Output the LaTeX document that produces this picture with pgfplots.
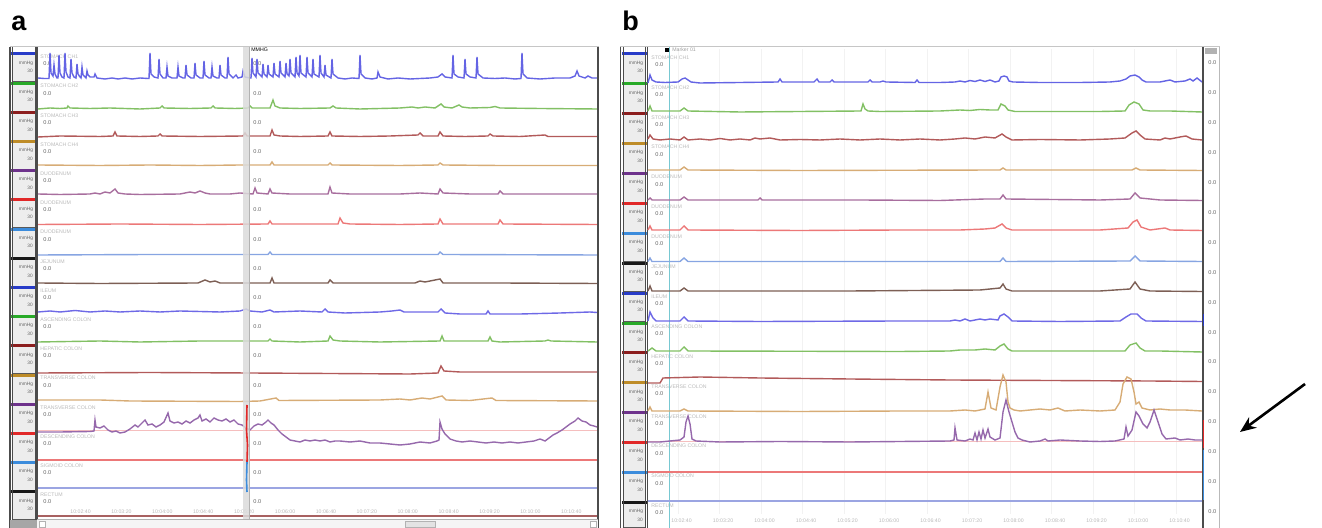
\documentclass[border=0pt]{standalone}
\usepackage{fontspec}
\setmainfont{Liberation Sans}
\usepackage{pgfplots}
\pgfplotsset{compat=1.18}
\usetikzlibrary{arrows.meta}

% channel bar colours (strip)
\definecolor{c0}{RGB}{40,60,200}
\definecolor{c1}{RGB}{40,170,40}
\definecolor{c2}{RGB}{140,30,30}
\definecolor{c3}{RGB}{190,140,40}
\definecolor{c4}{RGB}{110,50,140}
\definecolor{c5}{RGB}{225,40,40}
\definecolor{c6}{RGB}{60,140,220}
\definecolor{c7}{RGB}{25,25,25}
\colorlet{c8}{c0}\colorlet{c9}{c1}\colorlet{c10}{c2}\colorlet{c11}{c3}
\colorlet{c12}{c4}\colorlet{c13}{c5}\colorlet{c14}{c6}\colorlet{c15}{c7}
% trace colours
\definecolor{tblue}{RGB}{100,100,228}
\definecolor{tgreen}{RGB}{130,192,100}
\definecolor{tdred}{RGB}{178,90,90}
\definecolor{ttan}{RGB}{215,172,118}
\definecolor{tmauve}{RGB}{168,110,158}
\definecolor{tred}{RGB}{236,120,120}
\definecolor{tlblue}{RGB}{135,165,226}
\definecolor{tdark}{RGB}{125,95,85}
\definecolor{tviolet}{RGB}{110,105,230}
\definecolor{tpurple}{RGB}{150,105,172}
\definecolor{tlav}{RGB}{155,165,226}
\definecolor{tpink}{RGB}{245,190,190}
\definecolor{tcyan}{RGB}{120,200,210}

\newcommand{\chlab}[1]{\ifcase#1\relax STOMACH CH1\or STOMACH CH2\or STOMACH CH3\or STOMACH CH4\or DUODENUM\or DUODENUM\or DUODENUM\or JEJUNUM\or ILEUM\or ASCENDING COLON\or HEPATIC COLON\or TRANSVERSE COLON\or TRANSVERSE COLON\or DESCENDING COLON\or SIGMOID COLON\or RECTUM\fi}
\newcommand{\tl}[1]{\ifcase#1\relax 10:02:40\or 10:03:20\or 10:04:00\or 10:04:40\or 10:05:20\or 10:06:00\or 10:06:40\or 10:07:20\or 10:08:00\or 10:08:40\or 10:09:20\or 10:10:00\or 10:10:40\fi}

% one trace: colour/style, baseline (px), rows "x rise \\"
\newcommand{\tr}[3]{\addplot[line width=0.7pt,#1] table[x index=0,y expr={#2-\thisrowno{1}},row sep=\\]{#3};}

\tikzset{
  lab/.style={font=\fontsize{2.6}{3}\selectfont, text=gray!55, inner sep=0pt, anchor=west},
  zero/.style={font=\fontsize{2.8}{3}\selectfont, text=gray!80!black, inner sep=0pt, anchor=west},
  sm/.style={font=\fontsize{2.4}{3}\selectfont, text=gray!80!black, inner sep=0pt},
}

\begin{document}
\begin{tikzpicture}
\begin{axis}[scale only axis, width=661pt, height=264pt,
  xmin=0, xmax=1322, ymin=0, ymax=528, y dir=reverse,
  hide axis, clip=false]

% ---------------- panel a ----------------
\draw[gray!45, line width=0.5pt] (axis cs:10,47) -- (axis cs:599,47);
\pgfplotsinvokeforeach{0,...,15}{
  \draw[fill=gray!14, draw=gray!70!black, line width=0.35pt] (axis cs:12.5,{52.5+29.2*#1}) rectangle (axis cs:35,{52.5+29.2*(#1+1)});
  \fill[c#1] (axis cs:11,{52.5+29.2*#1}) rectangle (axis cs:36.5,{55.5+29.2*#1});
  \node[sm] at (axis cs:26,{63+29.2*#1}) {mmHg};
  \node[sm] at (axis cs:30,{71+29.2*#1}) {30};
  \node[lab] at (axis cs:40,{57+29.2*#1}) {\chlab{#1}};
  \node[zero] at (axis cs:43,{64+29.2*#1}) {0.0};
  \node[zero] at (axis cs:253,{64+29.2*#1}) {0.0};
}
\draw[gray!60!black, line width=0.6pt] (axis cs:10,47) -- (axis cs:10,528);
\draw[gray!60!black, line width=0.4pt] (axis cs:12.5,47) -- (axis cs:12.5,520);
\draw[gray!60!black, line width=0.4pt] (axis cs:35,47) -- (axis cs:35,520);
\draw[gray!60!black, line width=0.6pt] (axis cs:37,47) -- (axis cs:37,528);
\pgfplotsinvokeforeach{0,...,12}{
  \node[lab] at (axis cs:{70+40.9*#1},512) {\tl{#1}};
}
\addplot[tpink, line width=0.5pt] coordinates {(38,431) (597,431)};

\tr{tblue}{79}{38 1 \\ 44 0.5 \\ 49 0.5 \\ 50 26 \\ 51 6 \\ 53 3 \\ 54 14 \\ 55 5 \\ 57 1 \\ 58 1 \\ 59 24 \\ 60 6 \\ 62 2 \\ 64 1 \\ 65 26 \\ 66 7 \\ 68 2 \\ 70 1 \\ 71 20 \\ 72 6 \\ 74 2 \\ 76 1 \\ 77 15 \\ 78 5 \\ 80 2 \\ 81 1 \\ 82 12 \\ 83 4 \\ 85 2 \\ 86 1 \\ 87 8 \\ 88 4 \\ 90 2 \\ 94 2 \\ 95 5 \\ 97 1 \\ 105 0 \\ 112 1 \\ 118 0 \\ 125 1 \\ 132 0 \\ 140 1 \\ 148 0.5 \\ 149 0.5 \\ 150 26 \\ 151 5 \\ 154 2 \\ 158 1 \\ 159 20 \\ 160 5 \\ 163 1 \\ 166 1 \\ 167 12 \\ 168 3 \\ 172 1 \\ 177 1 \\ 178 12 \\ 179 3 \\ 183 1 \\ 185 1 \\ 186 14 \\ 187 4 \\ 191 1 \\ 194 1 \\ 195 16 \\ 196 4 \\ 200 1 \\ 203 1 \\ 204 18 \\ 205 4 \\ 209 1 \\ 211 1 \\ 212 12 \\ 213 3 \\ 217 1 \\ 219 1 \\ 220 14 \\ 221 4 \\ 225 1 \\ 227 1 \\ 228 22 \\ 229 5 \\ 233 1 \\ 236 4 \\ 238 1 \\ 242 2 \\ 243 8 \\ 245 2 \\ 250 1 \\ 251 1 \\ 252 21 \\ 253 6 \\ 256 2 \\ 257 20 \\ 258 6 \\ 262 2 \\ 263 15 \\ 264 5 \\ 267 2 \\ 268 14 \\ 269 5 \\ 273 2 \\ 274 16 \\ 275 5 \\ 279 2 \\ 280 18 \\ 281 6 \\ 285 2 \\ 286 16 \\ 287 5 \\ 289 3 \\ 290 20 \\ 291 6 \\ 295 2 \\ 296 22 \\ 297 6 \\ 299 3 \\ 300 24 \\ 301 6 \\ 306 2 \\ 307 22 \\ 308 6 \\ 312 2 \\ 313 20 \\ 314 5 \\ 319 2 \\ 320 24 \\ 321 6 \\ 324 2 \\ 325 14 \\ 326 4 \\ 331 1 \\ 332 20 \\ 333 5 \\ 338 1 \\ 345 0 \\ 352 1 \\ 359 0.5 \\ 360 24 \\ 361 5 \\ 365 1 \\ 372 0 \\ 377 1 \\ 378 7 \\ 380 2 \\ 388 0 \\ 398 1 \\ 410 0 \\ 420 0.5 \\ 430 1 \\ 438 2 \\ 442 5 \\ 445 2 \\ 452 1 \\ 453 24 \\ 454 5 \\ 458 2 \\ 464 1 \\ 465 20 \\ 466 5 \\ 470 2 \\ 476 1 \\ 477 22 \\ 478 5 \\ 483 1 \\ 495 0.5 \\ 505 1 \\ 515 0 \\ 521 0.5 \\ 522 26 \\ 523 5 \\ 527 1 \\ 540 0 \\ 555 1 \\ 570 1 \\ 575 3 \\ 577 8 \\ 579 3 \\ 585 1 \\ 588 3 \\ 592 1 \\ 597 1 \\}
\tr{tgreen}{109}{38 0 \\ 50 1 \\ 60 0.5 \\ 67 1 \\ 68 3 \\ 70 1 \\ 90 0.5 \\ 110 1 \\ 140 0 \\ 160 1 \\ 162 3 \\ 164 1 \\ 190 0.5 \\ 211 1 \\ 213 3 \\ 215 1 \\ 235 0.5 \\ 248 1 \\ 250 3 \\ 252 1 \\ 270 1 \\ 273 9 \\ 275 3 \\ 280 1 \\ 300 0.5 \\ 330 1 \\ 333 3 \\ 336 1 \\ 360 0 \\ 400 1 \\ 412 2 \\ 418 1 \\ 425 2 \\ 435 1 \\ 441 5 \\ 444 2 \\ 452 1 \\ 459 4 \\ 462 2 \\ 470 1 \\ 490 1.5 \\ 495 2.5 \\ 500 1 \\ 540 0.5 \\ 597 0 \\}
\tr{tdred}{137}{38 0 \\ 60 1 \\ 100 0.5 \\ 113 1 \\ 115 5 \\ 117 1 \\ 140 0.5 \\ 158 1 \\ 160 3 \\ 162 1 \\ 200 0.5 \\ 243 1 \\ 245 4 \\ 247 1 \\ 270 1 \\ 272 7 \\ 274 2 \\ 280 1 \\ 300 0.5 \\ 328 1 \\ 330 5 \\ 332 1 \\ 360 0.5 \\ 390 1 \\ 418 2 \\ 420 4 \\ 423 1 \\ 438 1 \\ 440 5 \\ 443 1 \\ 465 0.5 \\ 488 1 \\ 490 3 \\ 493 1 \\ 520 0.5 \\ 545 2 \\ 548 0.5 \\ 597 0.5 \\}
\tr{ttan}{166}{38 1 \\ 100 0.5 \\ 150 1 \\ 200 0.5 \\ 240 1 \\ 270 1 \\ 272 4 \\ 274 1 \\ 328 1 \\ 330 3 \\ 332 1 \\ 400 0.5 \\ 438 1 \\ 440 3 \\ 443 1 \\ 500 0.5 \\ 597 0.5 \\}
\tr{tmauve}{195}{38 1 \\ 60 0.5 \\ 90 1 \\ 95 2 \\ 100 1 \\ 105 3 \\ 110 2 \\ 115 6 \\ 118 2 \\ 125 1 \\ 140 0.5 \\ 180 1 \\ 190 3 \\ 195 2 \\ 200 4 \\ 205 2 \\ 210 1 \\ 230 1 \\ 240 2 \\ 253 1 \\ 255 7 \\ 257 2 \\ 268 1 \\ 270 6 \\ 272 2 \\ 290 1 \\ 310 1 \\ 328 1 \\ 330 8 \\ 332 2 \\ 350 1 \\ 400 1 \\ 420 2 \\ 438 1 \\ 440 6 \\ 443 2 \\ 470 1 \\ 498 1 \\ 500 4 \\ 503 1 \\ 540 1 \\ 597 1 \\}
\tr{tred}{225}{38 0.5 \\ 120 1 \\ 200 0.5 \\ 268 1 \\ 270 4 \\ 272 1 \\ 338 1 \\ 340 7 \\ 343 2 \\ 350 1 \\ 400 0.5 \\ 438 1 \\ 440 6 \\ 443 1 \\ 498 1 \\ 500 5 \\ 503 1 \\ 597 0.5 \\}
\tr{tlblue}{255}{38 0 \\ 150 0.5 \\ 268 0.5 \\ 270 3 \\ 272 0.5 \\ 438 0.5 \\ 440 3 \\ 443 0.5 \\ 597 0 \\}
\tr{tdark}{284}{38 1 \\ 100 0.5 \\ 198 1 \\ 205 4 \\ 210 2 \\ 215 3 \\ 220 1 \\ 270 1 \\ 272 6 \\ 274 1 \\ 328 1 \\ 330 4 \\ 333 1 \\ 415 1 \\ 420 3 \\ 425 2 \\ 430 3 \\ 440 5 \\ 443 1 \\ 500 1 \\ 597 0.5 \\}
\tr{tviolet}{313}{38 1 \\ 50 2 \\ 60 1 \\ 75 2.5 \\ 90 1 \\ 105 2 \\ 120 1 \\ 140 2 \\ 160 1 \\ 180 2 \\ 200 1.5 \\ 220 1 \\ 240 2 \\ 246 4 \\ 250 2 \\ 262 1 \\ 270 3 \\ 274 1 \\ 300 2 \\ 322 1 \\ 325 4 \\ 328 1 \\ 345 0 \\ 380 1 \\ 392 2 \\ 400 3 \\ 404 1 \\ 420 1 \\ 438 1 \\ 441 4 \\ 445 0 \\ 460 -1 \\ 486 -1 \\ 488 2 \\ 490 -1 \\ 520 -1 \\ 560 0 \\ 590 1 \\ 597 0.5 \\}
\tr{tgreen}{342}{38 0 \\ 100 1 \\ 140 0 \\ 200 1 \\ 268 1 \\ 270 3 \\ 272 1 \\ 300 0 \\ 328 1 \\ 330 6 \\ 333 2 \\ 340 1 \\ 380 0 \\ 440 1 \\ 442 6 \\ 444 1 \\ 488 1 \\ 490 5 \\ 492 1 \\ 500 0 \\ 545 1 \\ 548 2 \\ 551 1 \\ 597 0 \\}
\tr{tdred}{373}{38 0 \\ 150 0.5 \\ 250 0 \\ 410 -1 \\ 438 0 \\ 441 7 \\ 444 2 \\ 460 1 \\ 597 1 \\}
\tr{ttan}{401}{38 1 \\ 100 1 \\ 130 0 \\ 240 -0.5 \\ 260 0 \\ 276 3 \\ 279 0.5 \\ 380 1 \\ 400 2 \\ 410 1 \\ 422 3 \\ 430 2 \\ 442 5 \\ 446 1 \\ 470 0.5 \\ 492 3 \\ 496 0.5 \\ 597 0 \\}
\tr{tpurple}{432}{38 0 \\ 60 0 \\ 90 0.5 \\ 94 1 \\ 95 12 \\ 96 5 \\ 100 4 \\ 104 6 \\ 108 2 \\ 112 0 \\ 116 1 \\ 120 -1 \\ 125 0 \\ 130 3 \\ 135 7 \\ 138 5 \\ 142 9 \\ 145 12 \\ 148 7 \\ 152 8 \\ 156 5 \\ 160 7 \\ 164 10 \\ 168 19 \\ 170 11 \\ 174 9 \\ 178 10 \\ 182 8 \\ 186 11 \\ 190 9 \\ 194 12 \\ 198 14 \\ 200 17 \\ 202 11 \\ 206 13 \\ 210 10 \\ 214 14 \\ 218 12 \\ 222 11 \\ 226 13 \\ 230 10 \\ 234 12 \\ 238 8 \\ 242 7 \\ 246 4 \\ 250 2 \\ 254 6 \\ 258 8 \\ 262 7 \\ 266 10 \\ 268 12 \\ 271 9 \\ 274 7 \\ 278 2 \\ 282 -2 \\ 286 -5 \\ 290 -8 \\ 295 -9 \\ 300 -10 \\ 305 -8 \\ 310 -9 \\ 315 -8 \\ 320 -9 \\ 325 -8 \\ 330 -10 \\ 335 -9 \\ 340 -9 \\ 350 -10 \\ 360 -9 \\ 370 -11 \\ 380 -11 \\ 390 -12 \\ 400 -13 \\ 410 -12 \\ 420 -10 \\ 430 -11 \\ 437 -9 \\ 439 -8 \\ 440 10 \\ 442 3 \\ 445 -2 \\ 450 -7 \\ 456 -9 \\ 462 -10 \\ 470 -9 \\ 478 -10 \\ 486 -11 \\ 494 -10 \\ 502 -11 \\ 510 -10 \\ 518 -11 \\ 526 -10 \\ 534 -9 \\ 540 -7 \\ 545 -9 \\ 549 -6 \\ 553 -3 \\ 557 -1 \\ 562 2 \\ 566 5 \\ 570 8 \\ 575 11 \\ 578 14 \\ 582 11 \\ 586 10 \\ 590 7 \\ 594 6 \\ 597 5 \\}
\tr{tred,line width=1.1pt}{460}{38 0 \\ 300 0 \\ 597 0 \\}
\tr{tlav}{488}{38 0 \\ 300 0 \\ 597 0 \\}
\tr{tdred!80!gray}{516}{38 0 \\ 300 0 \\ 597 0 \\}

% split bar and frame of panel a
\fill[gray!28, opacity=0.85] (axis cs:243,47) rectangle (axis cs:250,519);
\draw[gray!60, line width=0.5pt] (axis cs:249,47) -- (axis cs:249,519);
\node[lab, text=black] at (axis cs:251,50) {MMHG};
\addplot[c5, line width=0.8pt] coordinates {(247,405) (246.5,430) (247.5,445) (247,462)};
\addplot[c6, line width=0.8pt] coordinates {(247,462) (246.5,480) (247,492)};
\draw[gray!60!black, line width=0.7pt] (axis cs:598,47) -- (axis cs:598,528);
\fill[gray!8] (axis cs:37,519) rectangle (axis cs:598,528);
\draw[gray!60, line width=0.4pt] (axis cs:37,519) -- (axis cs:598,519);
\fill[gray!70] (axis cs:10,520) rectangle (axis cs:37,528);
\draw[gray!60, fill=white, line width=0.3pt] (axis cs:39,521) rectangle (axis cs:45,527);
\draw[gray!60, fill=gray!22, line width=0.3pt] (axis cs:405,521) rectangle (axis cs:435,527);
\draw[gray!60, fill=white, line width=0.3pt] (axis cs:590,521) rectangle (axis cs:596,527);

% ---------------- panel b ----------------
\draw[gray!45, line width=0.5pt] (axis cs:620,47) -- (axis cs:1220,47);
\pgfplotsinvokeforeach{0,...,12}{
  \draw[gray!10, line width=0.3pt] (axis cs:{678+41.5*#1},49) -- (axis cs:{678+41.5*#1},514);
  \node[lab] at (axis cs:{671+41.5*#1},521) {\tl{#1}};
}
\pgfplotsinvokeforeach{0,...,15}{
  \draw[fill=gray!14, draw=gray!70!black, line width=0.35pt] (axis cs:623,{52.5+29.9*#1}) rectangle (axis cs:645,{min(52.5+29.9*(#1+1),527.5)});
  \fill[c#1] (axis cs:621.5,{52.5+29.9*#1}) rectangle (axis cs:646.5,{55.5+29.9*#1});
  \node[sm] at (axis cs:636,{63+29.9*#1}) {mmHg};
  \node[sm] at (axis cs:640,{71+29.9*#1}) {30};
  \node[lab] at (axis cs:651,{57.5+29.9*#1}) {\chlab{#1}};
  \node[zero] at (axis cs:655,{64.5+29.9*#1}) {0.0};
  \node[zero] at (axis cs:1208,{63+29.9*#1}) {0.0};
}
\draw[gray!60!black, line width=0.6pt] (axis cs:620.5,47) -- (axis cs:620.5,528);
\draw[gray!60!black, line width=0.4pt] (axis cs:623,47) -- (axis cs:623,528);
\draw[gray!60!black, line width=0.4pt] (axis cs:645,47) -- (axis cs:645,528);
\draw[gray!60!black, line width=0.6pt] (axis cs:647.5,47) -- (axis cs:647.5,528);
\addplot[tpink, line width=0.5pt] coordinates {(648,442) (1202,442)};
\addplot[tcyan, line width=0.7pt] coordinates {(669.5,47) (669.5,528)};
\fill[black] (axis cs:665,48) rectangle (axis cs:669,52);
\node[lab, text=gray!75] at (axis cs:672,50) {Marker 01};

\tr{tblue}{83}{648 0 \\ 650 8 \\ 652 3 \\ 656 1 \\ 665 0.5 \\ 678 1 \\ 682 4 \\ 685 5 \\ 688 3 \\ 691 1 \\ 700 0 \\ 740 0.5 \\ 778 1 \\ 780 4 \\ 782 1 \\ 814 1 \\ 817 4 \\ 819 1 \\ 830 1 \\ 832 3 \\ 834 1 \\ 868 1 \\ 870 3 \\ 872 1 \\ 880 1 \\ 883 2 \\ 886 1 \\ 915 0.5 \\ 917 3 \\ 919 0.5 \\ 940 0.5 \\ 955 1 \\ 960 2 \\ 965 1 \\ 970 2.5 \\ 975 1.5 \\ 980 3 \\ 985 1.5 \\ 990 3 \\ 995 1 \\ 999 2 \\ 1001 6 \\ 1004 7 \\ 1007 6 \\ 1009 2 \\ 1013 1 \\ 1040 0.5 \\ 1080 0.5 \\ 1110 1 \\ 1120 2 \\ 1126 4 \\ 1130 7 \\ 1135 8 \\ 1139 6 \\ 1142 3 \\ 1146 1 \\ 1160 1 \\ 1170 3 \\ 1175 1 \\ 1185 2 \\ 1190 4 \\ 1193 2 \\ 1197 5 \\ 1202 1 \\}
\tr{tgreen}{112}{648 1 \\ 650 6 \\ 652 1 \\ 680 1 \\ 684 4 \\ 688 1 \\ 740 0 \\ 800 0.5 \\ 861 1 \\ 863 8 \\ 865 3 \\ 868 1 \\ 880 0.5 \\ 940 1 \\ 960 2 \\ 970 1.5 \\ 980 2.5 \\ 990 2 \\ 998 2 \\ 1001 8 \\ 1005 6 \\ 1008 2 \\ 1015 0.5 \\ 1060 0.5 \\ 1100 0.5 \\ 1125 1 \\ 1129 7 \\ 1134 10 \\ 1139 8 \\ 1143 2 \\ 1150 1 \\ 1170 1 \\ 1202 0 \\}
\tr{tdred}{141}{648 2 \\ 650 6 \\ 653 2 \\ 660 1 \\ 670 2 \\ 680 1 \\ 684 4 \\ 688 1 \\ 700 2 \\ 710 1 \\ 720 2.5 \\ 730 1 \\ 740 2 \\ 750 1 \\ 755 3 \\ 760 2 \\ 770 3 \\ 780 1 \\ 800 1.5 \\ 820 1 \\ 840 2 \\ 860 1 \\ 880 2 \\ 900 1 \\ 920 2 \\ 940 1 \\ 955 2 \\ 965 3 \\ 975 2 \\ 985 4 \\ 995 3 \\ 1002 7 \\ 1006 4 \\ 1012 1 \\ 1040 1.5 \\ 1080 1 \\ 1110 2 \\ 1125 3 \\ 1132 8 \\ 1136 10 \\ 1140 6 \\ 1145 2 \\ 1160 1 \\ 1165 3 \\ 1170 2 \\ 1180 4 \\ 1186 5 \\ 1192 2 \\ 1202 1 \\}
\tr{ttan}{171}{648 1 \\ 680 1 \\ 684 4 \\ 688 1 \\ 800 0.5 \\ 1000 1 \\ 1003 3 \\ 1006 1 \\ 1132 1 \\ 1136 3 \\ 1140 1 \\ 1202 0.5 \\}
\tr{tmauve}{201}{648 1 \\ 650 3 \\ 652 1 \\ 680 1 \\ 684 4 \\ 688 1 \\ 758 1 \\ 760 3 \\ 762 1 \\ 860 1 \\ 940 0.5 \\ 970 1.5 \\ 985 2 \\ 1000 2 \\ 1003 6 \\ 1006 2 \\ 1100 1 \\ 1130 2 \\ 1135 8 \\ 1140 3 \\ 1160 1 \\ 1202 0.5 \\}
\tr{tred}{231}{648 1 \\ 650 5 \\ 652 1 \\ 680 1 \\ 684 5 \\ 688 1 \\ 800 0.5 \\ 900 1 \\ 960 1 \\ 985 2 \\ 995 3 \\ 1002 7 \\ 1006 3 \\ 1012 1 \\ 1100 1 \\ 1128 3 \\ 1133 9 \\ 1137 11 \\ 1141 4 \\ 1150 1 \\ 1165 3 \\ 1170 1 \\ 1202 0.5 \\}
\tr{tlblue}{262}{648 0.5 \\ 650 4 \\ 652 0.5 \\ 680 0.5 \\ 684 4 \\ 688 0.5 \\ 1000 0.5 \\ 1003 4 \\ 1006 0.5 \\ 1130 1 \\ 1135 6 \\ 1140 1 \\ 1202 0.5 \\}
\tr{tdark}{292}{648 1 \\ 650 6 \\ 652 1 \\ 680 1 \\ 684 4 \\ 688 1 \\ 850 1 \\ 980 2 \\ 990 3 \\ 1000 4 \\ 1003 8 \\ 1006 3 \\ 1012 1 \\ 1100 1 \\ 1130 3 \\ 1135 10 \\ 1140 3 \\ 1150 1 \\ 1202 0.5 \\}
\tr{tviolet}{322}{648 1 \\ 650 10 \\ 653 4 \\ 656 1 \\ 680 1 \\ 684 5 \\ 688 1 \\ 760 0.5 \\ 900 1 \\ 950 1 \\ 955 2 \\ 960 1 \\ 965 3 \\ 970 1 \\ 975 2 \\ 980 3 \\ 985 2 \\ 990 3 \\ 998 2 \\ 1000 6 \\ 1004 8 \\ 1008 5 \\ 1012 1 \\ 1060 0.5 \\ 1120 1 \\ 1126 5 \\ 1131 8 \\ 1137 8 \\ 1141 4 \\ 1146 1 \\ 1202 0.5 \\}
\tr{tgreen}{352}{648 1 \\ 652 4 \\ 656 1 \\ 680 1 \\ 684 5 \\ 688 1 \\ 900 0.5 \\ 950 1 \\ 960 2 \\ 975 2 \\ 985 3 \\ 995 2 \\ 1000 6 \\ 1004 8 \\ 1008 3 \\ 1012 1 \\ 1125 1 \\ 1130 7 \\ 1136 9 \\ 1140 4 \\ 1145 1 \\ 1160 1 \\ 1202 0 \\}
\tr{tdred}{382}{648 -1 \\ 660 -1 \\ 663 4 \\ 700 5 \\ 760 4 \\ 850 3 \\ 950 2 \\ 1050 1.5 \\ 1150 1 \\ 1202 0.5 \\}
\tr{ttan}{412}{648 1 \\ 650 5 \\ 652 1 \\ 680 1 \\ 684 3 \\ 688 1 \\ 800 0.5 \\ 900 1 \\ 950 1 \\ 965 2 \\ 975 1 \\ 985 3 \\ 988 20 \\ 991 4 \\ 996 2 \\ 1000 25 \\ 1003 37 \\ 1006 30 \\ 1008 10 \\ 1010 4 \\ 1014 2 \\ 1020 1 \\ 1040 3 \\ 1050 2 \\ 1058 4 \\ 1065 1 \\ 1080 2 \\ 1100 1 \\ 1115 2 \\ 1120 10 \\ 1123 28 \\ 1127 35 \\ 1131 33 \\ 1134 20 \\ 1136 8 \\ 1139 10 \\ 1142 4 \\ 1150 2 \\ 1160 3 \\ 1170 2 \\ 1185 2 \\ 1202 1 \\}
\tr{tpurple}{442}{648 0 \\ 660 0 \\ 670 1 \\ 680 2 \\ 684 5 \\ 686 20 \\ 688 26 \\ 690 18 \\ 692 3 \\ 696 1 \\ 720 0 \\ 780 0.5 \\ 850 0 \\ 900 0.5 \\ 950 1 \\ 954 2 \\ 955 14 \\ 957 2 \\ 965 1 \\ 970 3 \\ 973 2 \\ 975 9 \\ 977 2 \\ 979 10 \\ 981 3 \\ 983 12 \\ 985 4 \\ 988 13 \\ 990 5 \\ 995 2 \\ 1000 4 \\ 1003 30 \\ 1006 42 \\ 1009 30 \\ 1012 20 \\ 1015 10 \\ 1018 4 \\ 1022 2 \\ 1030 0 \\ 1040 1 \\ 1045 3 \\ 1048 1 \\ 1060 2 \\ 1080 1 \\ 1100 0.5 \\ 1115 1 \\ 1124 3 \\ 1126 15 \\ 1128 6 \\ 1132 12 \\ 1136 30 \\ 1139 26 \\ 1143 18 \\ 1147 14 \\ 1150 20 \\ 1154 32 \\ 1158 20 \\ 1162 8 \\ 1166 3 \\ 1175 4 \\ 1180 2 \\ 1188 3 \\ 1195 2 \\ 1202 2 \\}
\tr{tred,line width=1.1pt}{472}{648 0 \\ 900 0 \\ 1202 0 \\}
\tr{tlav}{501}{648 0 \\ 900 0 \\ 1202 0 \\}

% right scale strip of panel b
\draw[gray!55, line width=0.5pt] (axis cs:1219,47) -- (axis cs:1219,528);
\fill[gray!60] (axis cs:1205,48) rectangle (axis cs:1217,54);
\draw[gray!60!black, line width=1pt] (axis cs:1203,47) -- (axis cs:1203,528);
\addplot[c0, line width=0.9pt] coordinates {(1203.5,314) (1203.5,326)};
\addplot[c5, line width=0.9pt] coordinates {(1203.5,420) (1203.5,448)};
\addplot[c6, line width=0.9pt] coordinates {(1203.5,450) (1203.5,500)};

% arrow
\draw[black, line width=1.3pt, -{Stealth[length=8pt,width=6.5pt]}] (axis cs:1305,384) -- (axis cs:1240,432);

% panel letters
\node[anchor=base west, inner sep=0pt, font=\bfseries\fontsize{13.5}{14}\selectfont] at (axis cs:11,31) {a};
\node[anchor=base west, inner sep=0pt, font=\bfseries\fontsize{13.5}{14}\selectfont] at (axis cs:622,31) {b};
\end{axis}
\pgfresetboundingbox
\path (current axis.south west) rectangle (current axis.north east);
\end{tikzpicture}
\end{document}
